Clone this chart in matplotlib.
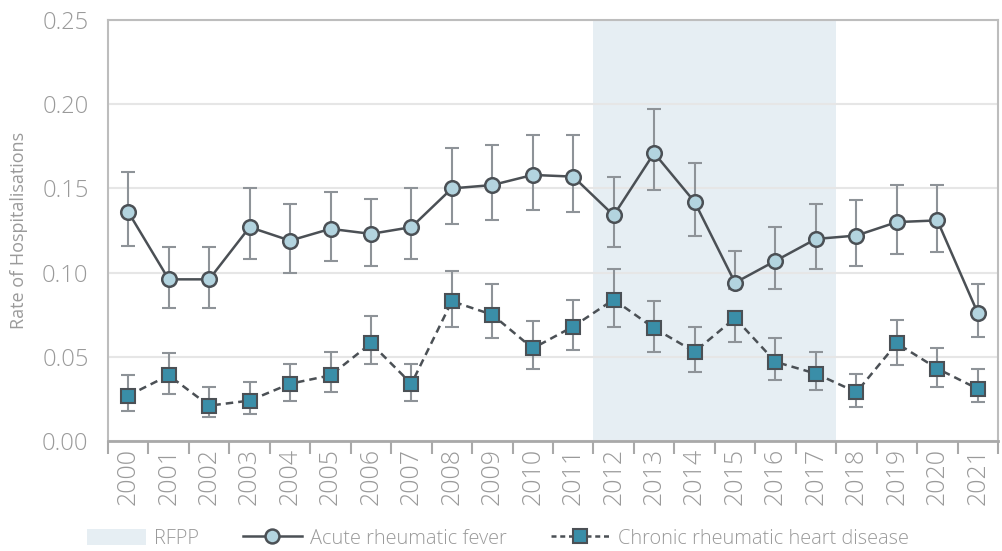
import matplotlib
matplotlib.use("Agg")
import matplotlib.pyplot as plt
from matplotlib.patches import Patch
from matplotlib.lines import Line2D
import numpy as np

years = [str(y) for y in range(2000, 2022)]

arf_rate = [0.136, 0.096, 0.096, 0.127, 0.119, 0.126, 0.123, 0.127, 0.150, 0.152,
            0.158, 0.157, 0.134, 0.171, 0.142, 0.094, 0.107, 0.120, 0.122, 0.130,
            0.131, 0.076]
arf_upper = [0.160, 0.115, 0.115, 0.150, 0.141, 0.148, 0.144, 0.150, 0.174, 0.176,
             0.182, 0.182, 0.157, 0.197, 0.165, 0.113, 0.127, 0.141, 0.143, 0.152,
             0.152, 0.093]
arf_lower = [0.116, 0.079, 0.079, 0.108, 0.100, 0.107, 0.104, 0.108, 0.129, 0.131,
             0.137, 0.136, 0.115, 0.149, 0.122, 0.090, 0.090, 0.102, 0.104, 0.111,
             0.112, 0.062]

rhd_rate = [0.027, 0.039, 0.021, 0.024, 0.034, 0.039, 0.058, 0.034, 0.083, 0.075,
            0.055, 0.068, 0.084, 0.067, 0.053, 0.073, 0.047, 0.040, 0.029, 0.058,
            0.043, 0.031]
rhd_upper = [0.039, 0.052, 0.032, 0.035, 0.046, 0.053, 0.074, 0.046, 0.101, 0.093,
             0.071, 0.084, 0.102, 0.083, 0.068, 0.077, 0.061, 0.053, 0.040, 0.072,
             0.055, 0.043]
rhd_lower = [0.018, 0.028, 0.014, 0.016, 0.024, 0.029, 0.046, 0.024, 0.068, 0.061,
             0.043, 0.054, 0.068, 0.053, 0.041, 0.059, 0.036, 0.030, 0.020, 0.045,
             0.032, 0.023]

rfpp_start, rfpp_end = "2012", "2017"

TEXT = "#9a9a9a"
LINE = "#4b5055"
ERR = "#8e9398"
ARF_FILL = "#b3d4df"
RHD_FILL = "#3a8ea8"
SHADE = "#e6eef3"
GRID = "#e6e6e6"
SPINE = "#bdbdbd"

plt.rcParams["font.family"] = ["Open Sans", "DejaVu Sans"]
plt.rcParams["font.weight"] = "light"

fig = plt.figure(figsize=(10.03, 5.51), dpi=100)
ax = fig.add_axes([0.1077, 0.1996, 0.8873, 0.7641])

x = np.arange(len(years))
arf = np.array(arf_rate)
rhd = np.array(rhd_rate)

ax.axvspan(years.index(rfpp_start) - 0.5, years.index(rfpp_end) + 0.5,
           color=SHADE, zorder=0, lw=0)

ax.errorbar(x, arf, yerr=[arf - np.array(arf_lower), np.array(arf_upper) - arf],
            fmt="none", ecolor=ERR, elinewidth=1.5, capsize=5, capthick=1.5, zorder=2)
ax.errorbar(x, rhd, yerr=[rhd - np.array(rhd_lower), np.array(rhd_upper) - rhd],
            fmt="none", ecolor=ERR, elinewidth=1.5, capsize=5, capthick=1.5, zorder=2)

ax.plot(x, arf, color=LINE, lw=1.8, marker="o", ms=10.5, mfc=ARF_FILL,
        mec=LINE, mew=1.8, zorder=3)
ax.plot(x, rhd, color=LINE, lw=1.8, ls=(0, (3, 2)), marker="s", ms=10, mfc=RHD_FILL,
        mec=LINE, mew=1.5, zorder=3)

ax.set_xlim(-0.5, len(years) - 0.5)
ax.set_ylim(0, 0.25)
yt = np.arange(0, 0.2501, 0.05)
ax.set_yticks(yt)
ax.set_yticklabels([f"{v:.2f}" for v in yt])
ax.yaxis.grid(True, color=GRID, lw=1.5, zorder=1)
ax.set_axisbelow(True)

ax.set_xticks(np.arange(-0.5, len(years) + 0.5, 1))
ax.set_xticklabels([])
ax.set_xticks(x, minor=True)
ax.set_xticklabels(years, minor=True, rotation=90, fontsize=18, color=TEXT)
ax.tick_params(axis="x", which="major", length=9, width=1.5, color="#a9a9a9", direction="out")
ax.tick_params(axis="x", which="minor", length=0, pad=5)
ax.tick_params(axis="y", length=0, labelsize=17, labelcolor=TEXT, pad=14)

for side in ["left", "top", "right"]:
    ax.spines[side].set_color(SPINE)
    ax.spines[side].set_linewidth(1.5)
ax.spines["bottom"].set_color("#a9a9a9")
ax.spines["bottom"].set_linewidth(2)

ax.set_ylabel("Rate of Hospitalisations", fontsize=13, color=TEXT, labelpad=10)

handles = [
    Patch(facecolor=SHADE, edgecolor="none"),
    Line2D([], [], color=LINE, lw=1.8, marker="o", ms=10, mfc=ARF_FILL, mec=LINE, mew=1.8),
    Line2D([], [], color=LINE, lw=1.8, ls=(0, (2, 1.5)), marker="s", ms=9.5, mfc=RHD_FILL,
           mec=LINE, mew=1.5),
]
labels = ["RFPP", "Acute rheumatic fever", "Chronic rheumatic heart disease"]
leg = fig.legend(handles, labels, loc="center left", bbox_to_anchor=(0.0867, 0.022), ncol=3,
                 frameon=False, fontsize=14.4, labelcolor=TEXT, handlelength=2.95,
                 handletextpad=0.4, columnspacing=2.2, handleheight=0.9,
                 borderaxespad=0, borderpad=0)

fig.savefig("out.png", dpi=100)
